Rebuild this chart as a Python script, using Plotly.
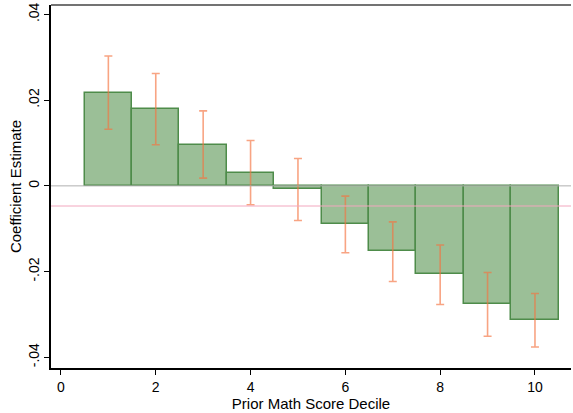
import plotly.graph_objects as go

deciles = [1, 2, 3, 4, 5, 6, 7, 8, 9, 10]
coef = [0.0216, 0.0179, 0.0095, 0.0030, -0.0008, -0.0089, -0.0152, -0.0206, -0.0275, -0.0313]
ci_upper = [0.0303, 0.0262, 0.0175, 0.0106, 0.0064, -0.0024, -0.0084, -0.0138, -0.0202, -0.0251]
ci_lower = [0.0132, 0.0096, 0.0018, -0.0044, -0.0081, -0.0156, -0.0223, -0.0277, -0.0351, -0.0376]
mean_line = -0.0047
x_ticks = [0, 2, 4, 6, 8, 10]
y_ticks = [-0.04, -0.02, 0, 0.02, 0.04]
y_ticktext = ["-.04", "-.02", "0", ".02", ".04"]

err_plus = [u - c for u, c in zip(ci_upper, coef)]
err_minus = [c - l for c, l in zip(coef, ci_lower)]

fig = go.Figure()
fig.add_trace(go.Bar(
    x=deciles, y=coef, width=1,
    marker=dict(color="#9BBF97", line=dict(color="#4E8C4A", width=1.5)),
    showlegend=False,
))
fig.add_trace(go.Scatter(
    x=deciles, y=coef, mode="markers",
    marker=dict(size=0.1, color="rgba(0,0,0,0)"),
    error_y=dict(type="data", symmetric=False, array=err_plus, arrayminus=err_minus,
                 color="rgba(245,115,65,0.65)", thickness=1.6, width=4),
    showlegend=False,
))

fig.add_hline(y=0, line=dict(color="#B0B0B0", width=1))
fig.add_hline(y=mean_line, line=dict(color="#F2A7BE", width=1))
fig.add_shape(type="line", xref="paper", yref="paper", x0=0, x1=1, y0=1, y1=1,
              line=dict(color="#444444", width=1.5))

fig.update_layout(
    width=573, height=413,
    margin=dict(l=51, r=2, t=5, b=45),
    plot_bgcolor="white", paper_bgcolor="white",
    font=dict(family="Liberation Sans, Arial, sans-serif", size=14, color="black"),
    bargap=0,
    xaxis=dict(range=[-0.21, 10.76], tickvals=x_ticks, ticks="outside", ticklen=5,
               tickcolor="black", showline=True, linecolor="black", linewidth=1.5,
               showgrid=False, zeroline=False,
               title=dict(text="Prior Math Score Decile", standoff=0, font=dict(size=15))),
    yaxis=dict(range=[-0.0425, 0.0422], tickvals=y_ticks, ticktext=y_ticktext,
               tickangle=-90, ticks="outside", ticklen=5, tickcolor="black",
               showline=True, linecolor="black", linewidth=1.5,
               showgrid=False, zeroline=False,
               title=dict(text="Coefficient Estimate", standoff=0, font=dict(size=15))),
)

fig.write_html("out.html", config={"displayModeBar": False},
               post_script="document.body.style.margin='0';")
